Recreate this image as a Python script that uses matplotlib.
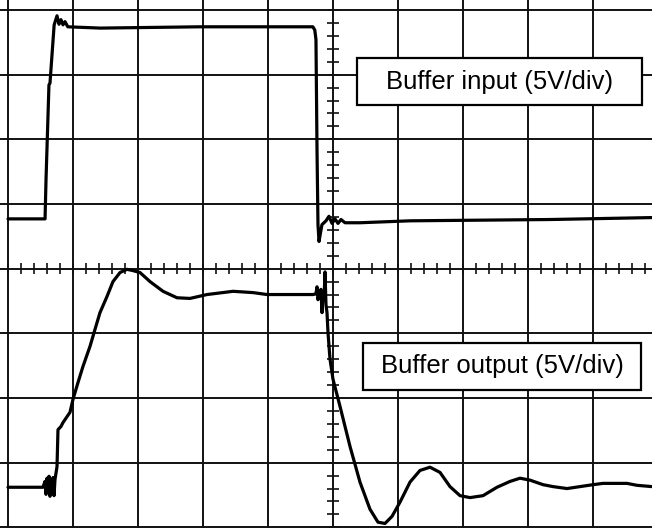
import matplotlib.pyplot as plt
from matplotlib.patches import Rectangle
import numpy as np

# time / voltage in screen divisions (10 x 8 graticule)
in_t = [0.00, 0.57, 0.585, 0.63, 0.646, 0.71, 0.754, 0.785, 0.815, 0.846, 0.877, 0.92,
        1.42, 2.95, 4.49, 4.69, 4.72, 4.738, 4.754, 4.769, 4.785, 4.80, 4.83, 4.892,
        4.938, 4.985, 5.031, 5.077, 5.123, 5.185, 5.415, 6.185, 8.338, 9.908]
in_v = [4.77, 4.77, 5.38, 6.84, 6.87, 7.77, 7.91, 7.78, 7.85, 7.77, 7.82, 7.74,
        7.72, 7.74, 7.74, 7.74, 7.69, 7.54, 5.84, 4.68, 4.42, 4.51, 4.68, 4.74,
        4.81, 4.70, 4.77, 4.70, 4.76, 4.71, 4.71, 4.74, 4.76, 4.79]

out_t = [0.000, 0.538, 0.569, 0.585, 0.600, 0.615, 0.631, 0.646, 0.662, 0.677, 0.692,
         0.708, 0.723, 0.754, 0.769, 0.815, 0.846, 0.954, 1.000, 1.077, 1.154, 1.262,
         1.338, 1.415, 1.523, 1.615, 1.723, 1.831, 1.923, 2.031, 2.185, 2.385, 2.600,
         2.800, 3.062, 3.462, 3.769, 3.985, 4.692, 4.738, 4.754, 4.769, 4.785, 4.815,
         4.831, 4.846, 4.862, 4.877, 4.892, 4.908, 4.923, 4.954, 5.000, 5.108, 5.262,
         5.415, 5.569, 5.692, 5.800, 5.908, 6.031, 6.185, 6.338, 6.492, 6.646, 6.800,
         6.954, 7.108, 7.308, 7.523, 7.723, 7.877, 8.031, 8.231, 8.385, 8.600, 8.800,
         9.000, 9.154, 9.523, 9.677, 9.908]
out_v = [0.62, 0.62, 0.71, 0.51, 0.76, 0.54, 0.79, 0.48, 0.74, 0.53, 0.77,
         0.49, 0.74, 0.94, 1.51, 1.56, 1.62, 1.78, 1.98, 2.24, 2.49, 2.80,
         3.06, 3.32, 3.57, 3.80, 3.94, 3.99, 3.97, 3.94, 3.80, 3.65, 3.55,
         3.54, 3.60, 3.65, 3.63, 3.60, 3.60, 3.61, 3.72, 3.52, 3.60, 3.68,
         3.32, 3.60, 3.52, 3.95, 3.44, 3.32, 3.01, 2.60, 2.29, 1.87, 1.25,
         0.70, 0.28, 0.08, 0.06, 0.17, 0.39, 0.70, 0.88, 0.93, 0.85, 0.63,
         0.49, 0.46, 0.49, 0.62, 0.71, 0.76, 0.73, 0.66, 0.63, 0.60, 0.63,
         0.66, 0.68, 0.68, 0.65, 0.63]

labels = ["Buffer input (5V/div)", "Buffer output (5V/div)"]

fig = plt.figure(figsize=(6.52, 5.28), dpi=100)
ax = fig.add_axes([0, 0, 1, 1])
ax.set_xlim(-8 / 65, 644 / 65)
ax.set_ylim(-0.01, 8 + 10 / 64.75)
ax.axis('off')

# graticule
for i in range(0, 11):
    ax.axvline(i, color='#111111', lw=1.4, zorder=1)
for j in range(0, 9):
    ax.axhline(j, color='#111111', lw=1.4, zorder=1)

# minor ticks on the centre lines
minor_x = np.arange(0, 10.01, 0.2)
minor_y = np.arange(0, 8.01, 0.2)
ax.vlines(minor_x, 4 - 0.09, 4 + 0.09, color='#111111', lw=1.2, zorder=1)
ax.hlines(minor_y, 5 - 0.085, 5 + 0.085, color='#111111', lw=1.2, zorder=1)

# traces
ax.plot(in_t, in_v, color='black', lw=2.3, zorder=3,
        solid_joinstyle='round', solid_capstyle='round')
ax.plot(out_t, out_v, color='black', lw=2.3, zorder=3,
        solid_joinstyle='round', solid_capstyle='round')

# label boxes (figure fractions)
boxes = [(357 / 652, 1 - 105 / 528, 285 / 652, 47 / 528),
         (363 / 652, 1 - 390 / 528, 278 / 652, 47 / 528)]
for (x0, y0, w, h), txt in zip(boxes, labels):
    fig.patches.append(Rectangle((x0, y0), w, h, transform=fig.transFigure,
                                 facecolor='white', edgecolor='black', lw=1.6, zorder=5))
    fig.text(x0 + w / 2, y0 + h / 2, txt, ha='center', va='center',
             fontsize=18.5, family='Liberation Sans', zorder=6)

fig.savefig('out.png', dpi=100, facecolor='white')
